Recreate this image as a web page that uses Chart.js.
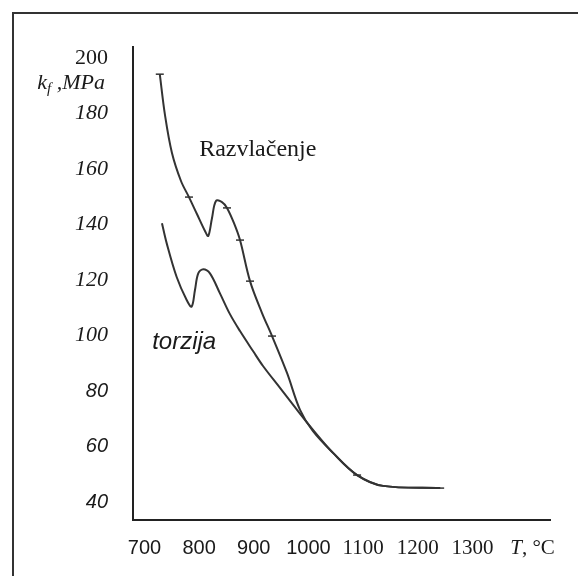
<!DOCTYPE html>
<html>
<head>
<meta charset="utf-8">
<script src="https://cdn.jsdelivr.net/npm/chart.js@4"></script>
<style>
html, body { margin: 0; padding: 0; background: #fff; }
</style>
</head>
<body>
<canvas id="chart" width="578" height="576"></canvas>
<script>
// temperature T (°C) and flow stress kf (MPa)
const razT = [728, 737.5, 750.3, 766.8, 781.4, 796.0, 810.7, 816.7, 823.5, 830.8, 841.8, 851, 863.8, 874.8, 893.1, 915.1, 933.4, 960.8, 984.6, 1008, 1045, 1089, 1136.6, 1241];
const razK = [194.2, 179.5, 165.8, 155.7, 149.9, 143.8, 137.7, 135.9, 142.3, 148.5, 148.1, 146, 140.5, 134.4, 119.6, 108.1, 99.8, 86.5, 73.2, 65.6, 57.7, 49.7, 45.8, 45];
const razMarked = [728, 781.4, 851, 874.8, 893.1, 933.4, 1089, 1241];

const torT = [732, 740.6, 758.9, 777.2, 786.3, 792.4, 798.4, 807.6, 819.8, 838.1, 856.4, 874.8, 898.6, 916.9, 948, 979.1, 1008.4, 1045, 1089, 1136.6, 1241];
const torK = [140.5, 133.3, 121.1, 112.8, 110.4, 116.4, 122.4, 123.9, 122.4, 115.2, 107.7, 101.6, 94.4, 89, 81.1, 73.2, 66, 57.7, 49.7, 45.8, 45];

const xTicks = [700, 800, 900, 1000, 1100, 1200, 1300];
const yTicks = [40, 60, 80, 100, 120, 140, 160, 180, 200];

const ink = '#1a1a1a';
const lineColor = '#333';

const toPoints = (xs, ys) => xs.map((v, i) => ({ x: v, y: ys[i] }));

const notes = {
    id: 'notes',
    beforeDraw(chart) {
        const ctx = chart.ctx;
        ctx.save();
        ctx.fillStyle = '#fff';
        ctx.fillRect(0, 0, chart.width, chart.height);
        ctx.strokeStyle = '#333';
        ctx.lineWidth = 2;
        ctx.strokeRect(13, 13, 1000, 1000);
        ctx.restore();
    },
    afterDraw(chart) {
        const { ctx, scales: { x, y } } = chart;
        ctx.save();
        ctx.fillStyle = ink;
        ctx.textBaseline = 'middle';
        ctx.textAlign = 'left';

        ctx.font = '24px "Liberation Serif"';
        ctx.fillText('Razvlačenje', x.getPixelForValue(800), y.getPixelForValue(167));

        ctx.font = 'italic 24px "Liberation Sans"';
        ctx.fillText('torzija', x.getPixelForValue(714), y.getPixelForValue(97.5));

        // k_f ,MPa beside the y axis
        const ky = y.getPixelForValue(191);
        const big = 'italic 22px "Liberation Serif"';
        const small = 'italic 15px "Liberation Serif"';
        ctx.font = big;
        const wk = ctx.measureText('k').width;
        const wm = ctx.measureText(' ,MPa').width;
        ctx.font = small;
        const wf = ctx.measureText('f').width;
        let px = y.right - 28 - (wk + wf + wm);
        ctx.font = big;
        ctx.fillText('k', px, ky);
        px += wk;
        ctx.font = small;
        ctx.fillText('f', px, ky + 6);
        px += wf;
        ctx.font = big;
        ctx.fillText(' ,MPa', px, ky);

        // T, °C at the end of the x axis
        const ty = x.top + 28;
        ctx.font = 'italic 21px "Liberation Serif"';
        const wt = ctx.measureText('T').width;
        ctx.font = '21px "Liberation Serif"';
        const wc = ctx.measureText(', °C').width;
        const tx = x.getPixelForValue(1410) - (wt + wc) / 2;
        ctx.font = 'italic 21px "Liberation Serif"';
        ctx.fillText('T', tx, ty);
        ctx.font = '21px "Liberation Serif"';
        ctx.fillText(', °C', tx + wt, ty);
        ctx.restore();
    }
};

new Chart(document.getElementById('chart'), {
    type: 'line',
    data: {
        datasets: [{
            label: 'Razvlačenje',
            data: toPoints(razT, razK),
            borderColor: lineColor,
            borderWidth: 2,
            tension: 0.35,
            pointStyle: 'line',
            pointRadius: ctx => razMarked.includes(razT[ctx.dataIndex]) ? 4 : 0,
            pointBorderColor: lineColor,
            pointBorderWidth: 1.5
        }, {
            label: 'torzija',
            data: toPoints(torT, torK),
            borderColor: lineColor,
            borderWidth: 2,
            tension: 0.35,
            pointRadius: 0
        }]
    },
    options: {
        responsive: false,
        animation: false,
        layout: { padding: { top: 47, right: 28, left: 0, bottom: 0 } },
        plugins: {
            legend: { display: false },
            tooltip: { enabled: false }
        },
        scales: {
            x: {
                type: 'linear',
                min: 679,
                max: 1442,
                afterBuildTicks: s => { s.ticks = xTicks.map(v => ({ value: v })); },
                afterFit: s => { s.height = 56; },
                grid: { display: false, drawTicks: false },
                border: { display: true, color: '#222', width: 2 },
                ticks: {
                    color: ink,
                    padding: 16,
                    maxRotation: 0,
                    autoSkip: false,
                    callback: v => String(v),
                    font: ctx => ctx.tick && ctx.tick.value >= 1100
                        ? { family: '"Liberation Serif"', size: 21 }
                        : { family: '"Liberation Sans"', size: 20 }
                }
            },
            y: {
                min: 33.5,
                max: 204,
                afterBuildTicks: s => { s.ticks = yTicks.map(v => ({ value: v })); },
                afterFit: s => { s.width = 133; },
                grid: { display: false, drawTicks: false },
                border: { display: true, color: '#222', width: 2 },
                ticks: {
                    color: ink,
                    padding: 25,
                    autoSkip: false,
                    callback: v => String(v),
                    font: ctx => {
                        const v = ctx.tick ? ctx.tick.value : 0;
                        if (v === 200) return { family: '"Liberation Serif"', size: 22 };
                        if (v >= 100) return { family: '"Liberation Serif"', size: 22, style: 'italic' };
                        return { family: '"Liberation Sans"', size: 20, style: 'italic' };
                    }
                }
            }
        }
    },
    plugins: [notes]
});
</script>
</body>
</html>
